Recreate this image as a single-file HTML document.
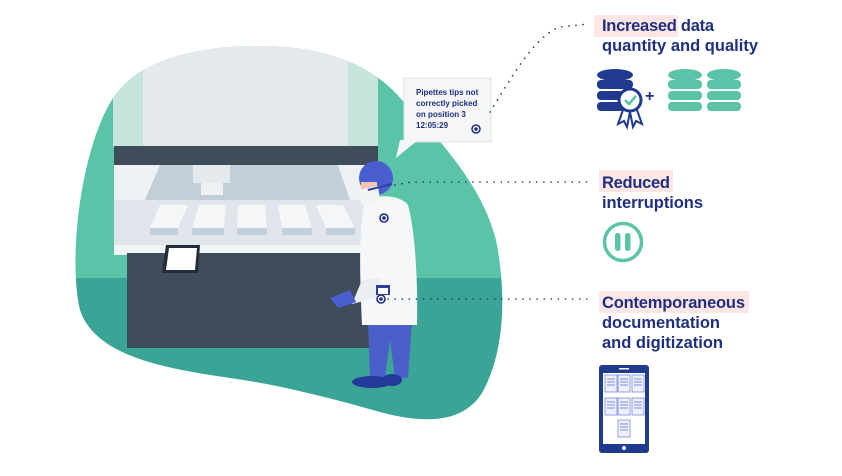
<!DOCTYPE html>
<html><head><meta charset="utf-8"><style>
html,body{margin:0;padding:0;background:#fff;}
svg{display:block;}
text{font-family:"Liberation Sans",sans-serif;font-weight:bold;fill:#1f2f80;}
</style></head><body>
<svg width="842" height="476" viewBox="0 0 842 476" xmlns="http://www.w3.org/2000/svg">
<defs>
<clipPath id="blob"><path d="M113,98 C140,58 200,46 260,46 C320,46 370,62 402,100 C440,140 482,185 496,240 C506,290 506,350 482,393 C462,425 420,423 380,412 C330,398 280,385 230,378 C160,368 95,355 80,310 C68,260 80,150 113,98 Z"/></clipPath>
</defs>
<g clip-path="url(#blob)">
<rect x="0" y="0" width="842" height="278" fill="#5bc4a8"/>
<rect x="0" y="278" width="842" height="200" fill="#3aa597"/>
<rect x="113" y="40" width="265" height="107" fill="#c5e4dc"/>
<rect x="143" y="40" width="205" height="107" fill="#e4e9ee"/>
</g>
<!-- machine -->
<rect x="114" y="146" width="264" height="19" fill="#3f4d5a"/>
<rect x="114" y="165" width="264" height="90" fill="#eef1f4"/>
<polygon points="160,165 338,165 350,200 145,200" fill="#c2ced8"/>
<rect x="193" y="165" width="37" height="18" fill="#e4e9ee"/>
<rect x="201" y="183" width="22" height="12" fill="#eef1f4"/>
<polygon points="114,200 378,200 378,245 114,245" fill="#dfe5ea"/>
<g fill="#f4f6f8">
<polygon points="160,205 188,205 178,228 150,228"/><polygon points="199,205 226,205 224,228 192,228"/>
<polygon points="238,205 265,205 267,228 237,228"/><polygon points="278,205 305,205 312,228 282,228"/>
<polygon points="316,205 343,205 355,228 326,228"/>
</g>
<g fill="#c2ced8">
<rect x="150" y="228" width="28" height="7"/><rect x="192" y="228" width="32" height="7"/><rect x="237" y="228" width="30" height="7"/><rect x="282" y="228" width="30" height="7"/><rect x="326" y="228" width="29" height="7"/>
</g>
<rect x="114" y="245" width="264" height="9" fill="#f2f4f6"/>
<rect x="127" y="253" width="242" height="95" fill="#3f4d5a"/>
<polygon points="166,245 200,245 198,273 162,273" fill="#232c38"/>
<polygon points="169,248 197,248 195,270 166,270" fill="#fff"/>
<!-- callout -->
<rect x="404" y="78" width="87" height="64" fill="#f4f6f8" stroke="#dde2e6"/>
<polygon points="400,140 418,140 396,158" fill="#f4f6f8"/>
<text x="416" y="95" font-size="8">Pipettes tips not</text>
<text x="416" y="106" font-size="8">correctly picked</text>
<text x="416" y="117" font-size="8">on position 3</text>
<text x="416" y="128" font-size="8" font-weight="normal">12:05:29</text>
<circle cx="476" cy="129" r="4" fill="none" stroke="#1f2f80" stroke-width="1.5"/><circle cx="476" cy="129" r="1.8" fill="#1f2f80"/>
<!-- person -->
<path d="M368,322 L412,322 L408,378 L395,378 L390,340 L385,378 L370,378 Z" fill="#4b5fc8"/>
<ellipse cx="372" cy="382" rx="20" ry="6" fill="#25399a"/>
<ellipse cx="392" cy="380" rx="10" ry="6" fill="#25399a"/>
<path d="M365,200 C380,194 400,195 408,205 C415,230 418,280 417,325 L362,325 C360,280 358,230 365,200 Z" fill="#f6f7f9"/>
<path d="M362,280 L380,278 L383,296 L352,304 Z" fill="#eceff2"/>
<path d="M330,298 L350,290 L356,302 L338,308 Z" fill="#4a5fcf"/>
<circle cx="376" cy="178" r="17" fill="#4a5fcf"/>
<rect x="361" y="182" width="16" height="14" fill="#f0c6b3"/>
<path d="M358,190 L378,186 L380,200 L362,206 Z" fill="#f2f3f5"/>
<line x1="368" y1="190" x2="392" y2="184" stroke="#2f40a0" stroke-width="2"/>
<rect x="376" y="285" width="14" height="10" fill="#2d3f9e"/><rect x="378" y="288" width="10" height="6" fill="#fff"/>
<circle cx="384" cy="218" r="4" fill="none" stroke="#1f2f80" stroke-width="1.6"/><circle cx="384" cy="218" r="1.8" fill="#1f2f80"/>
<circle cx="381" cy="299" r="4" fill="none" stroke="#1f2f80" stroke-width="1.6"/><circle cx="381" cy="299" r="1.8" fill="#1f2f80"/>
<!-- dotted connectors -->
<g fill="none" stroke="#1f2f80" stroke-width="1.6" stroke-dasharray="0.1 7" stroke-linecap="round">
<path d="M490,112 C510,80 535,35 560,27 L588,24"/>
<path d="M395,185 L412,182 L590,182"/>
<path d="M388,299 L590,299"/>
</g>
<!-- highlights -->
<rect x="594" y="15" width="84" height="22" fill="#fde6e3"/>
<rect x="599" y="170" width="74" height="22" fill="#fde6e3"/>
<rect x="599" y="291" width="150" height="22" fill="#fde6e3"/>
<g font-size="16.5">
<text x="602" y="31" textLength="112">Increased data</text>
<text x="602" y="51" textLength="156">quantity and quality</text>
<text x="602" y="188" textLength="68">Reduced</text>
<text x="602" y="208" textLength="101">interruptions</text>
<text x="602" y="308" textLength="143">Contemporaneous</text>
<text x="602" y="328" textLength="118">documentation</text>
<text x="602" y="348" textLength="121">and digitization</text>
</g>
<!-- databases -->
<g fill="#1f3a8f">
<ellipse cx="615" cy="75" rx="18" ry="6"/><rect x="597" y="80" width="36" height="9" rx="4"/><rect x="597" y="91" width="36" height="9" rx="4"/><rect x="597" y="102" width="30" height="9" rx="4"/>
</g>
<circle cx="630" cy="100" r="11" fill="#fff" stroke="#1f3a8f" stroke-width="3"/>
<path d="M625,100 l4,4 l7,-8" stroke="#5bc4a8" stroke-width="2.5" fill="none"/>
<path d="M623,110 L618,124 L624,121 L627,127 L630,112 M637,110 L642,124 L636,121 L633,127 L630,112" stroke="#1f3a8f" stroke-width="2" fill="none"/>
<text x="645" y="101" font-size="16">+</text>
<g fill="#5bc4a8">
<ellipse cx="685" cy="75" rx="17" ry="6"/><rect x="668" y="80" width="34" height="9" rx="4"/><rect x="668" y="91" width="34" height="9" rx="4"/><rect x="668" y="102" width="34" height="9" rx="4"/>
<ellipse cx="724" cy="75" rx="17" ry="6"/><rect x="707" y="80" width="34" height="9" rx="4"/><rect x="707" y="91" width="34" height="9" rx="4"/><rect x="707" y="102" width="34" height="9" rx="4"/>
</g>
<!-- pause -->
<circle cx="623" cy="242" r="18.5" fill="none" stroke="#5bc4a8" stroke-width="3.5"/>
<rect x="615" y="233" width="5.5" height="18" rx="2.5" fill="#5bc4a8"/><rect x="625" y="233" width="5.5" height="18" rx="2.5" fill="#5bc4a8"/>
<!-- tablet -->
<rect x="599" y="365" width="50" height="88" rx="3" fill="#1f3a8f"/>
<rect x="603" y="373" width="42" height="71" fill="#fff"/>
<rect x="619" y="368" width="10" height="1.5" fill="#fff"/>
<circle cx="624" cy="448" r="2" fill="#fff"/>
<g fill="#eef0fb" stroke="#7d8be0" stroke-width="0.8">
<rect x="605" y="375" width="12" height="17"/><rect x="618" y="375" width="12" height="17"/><rect x="632" y="375" width="12" height="17"/>
<rect x="605" y="398" width="12" height="17"/><rect x="618" y="398" width="12" height="17"/><rect x="632" y="398" width="12" height="17"/>
<rect x="618" y="420" width="12" height="17"/>
</g>
<g stroke="#7d8be0" stroke-width="1">
<path d="M607,379h8M607,382h8M607,385h8M620,379h8M620,382h8M620,385h8M634,379h8M634,382h8M634,385h8M607,402h8M607,405h8M607,408h8M620,402h8M620,405h8M620,408h8M634,402h8M634,405h8M634,408h8M620,424h8M620,427h8M620,430h8"/>
</g>
</svg>
</body></html>
